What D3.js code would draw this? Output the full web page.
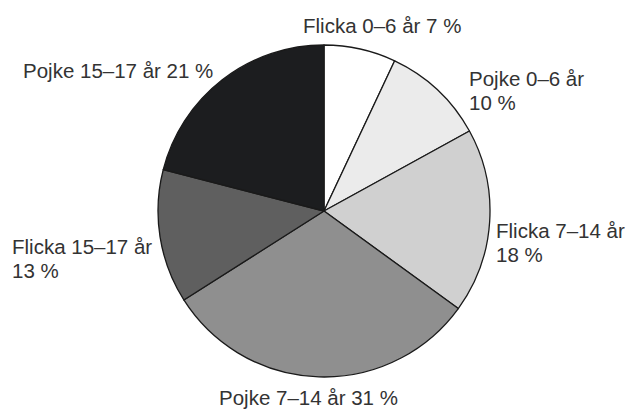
<!DOCTYPE html>
<html>
<head>
<meta charset="utf-8">
<script src="https://cdn.jsdelivr.net/npm/d3@7"></script>
<style>
  body { margin: 0; background: #fff; }
  text { font-family: "Liberation Sans", Arial, sans-serif; font-size: 20.5px; fill: #333; }
</style>
</head>
<body>
<svg width="628" height="410"></svg>
<script>
// slices, clockwise from 12 o'clock
const groups = ["Flicka 0–6 år", "Pojke 0–6 år", "Flicka 7–14 år", "Pojke 7–14 år", "Flicka 15–17 år", "Pojke 15–17 år"];
const shares = [7, 10, 18, 31, 13, 21];
const fills = ["#ffffff", "#ebebeb", "#d0d0d0", "#8f8f8f", "#5f5f5f", "#1c1d1f"];

// label placement: [x, y of first baseline, one line or two]
const labelLayout = [
  [303, 33, false],
  [469, 86, true],
  [496, 238, true],
  [219, 405, false],
  [12, 254, true],
  [23, 78, false]
];

const svg = d3.select("svg");
const cx = 324, cy = 211, r = 166;

const pie = d3.pie().sort(null).value(d => d);
const arc = d3.arc().innerRadius(0).outerRadius(r);

const g = svg.append("g").attr("transform", "translate(" + cx + "," + cy + ")");

g.selectAll("path")
  .data(pie(shares))
  .enter().append("path")
    .attr("d", arc)
    .attr("fill", (d, i) => fills[i])
    .attr("stroke", "#1a1a1a")
    .attr("stroke-width", 1.3)
    .attr("stroke-linejoin", "round");

groups.forEach(function(name, i) {
  let [x, y, twoLines] = labelLayout[i];
  let t = svg.append("text").attr("x", x).attr("y", y);
  if (twoLines) {
    t.append("tspan").attr("x", x).text(name);
    t.append("tspan").attr("x", x).attr("dy", 23.5).text(shares[i] + " %");
  } else {
    t.text(name + " " + shares[i] + " %");
  }
});
</script>
</body>
</html>
